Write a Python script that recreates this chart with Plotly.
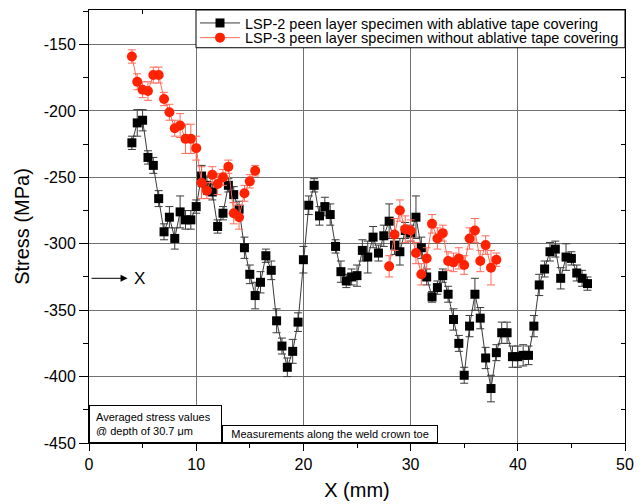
import plotly.graph_objects as go

# LSP-2: peen layer specimen with ablative tape covering
x_lsp2 = [4.0, 4.5, 5.0, 5.5, 6.0, 6.5, 7.0, 7.5, 8.0, 8.5, 9.0, 9.5, 10.0, 10.5, 11.0,
          11.5, 12.0, 12.5, 13.0, 13.5, 14.0, 14.5, 15.0, 15.5, 16.0, 16.5, 17.0, 17.5,
          18.0, 18.5, 19.0, 19.5, 20.0, 20.5, 21.0, 21.5, 22.0, 22.5, 23.0, 23.5, 24.0,
          24.5, 25.0, 25.5, 26.0, 26.5, 27.0, 27.5, 28.0, 28.5, 29.0, 29.5, 30.0, 30.5,
          31.0, 31.5, 32.0, 32.5, 33.0, 33.5, 34.0, 34.5, 35.0, 35.5, 36.0, 36.5, 37.0,
          37.5, 38.0, 38.5, 39.0, 39.5, 40.0, 40.5, 41.0, 41.5, 42.0, 42.5, 43.0, 43.5,
          44.0, 44.5, 45.0, 45.5, 46.0, 46.5]
s_lsp2 = [-224, -209, -207, -235, -241, -266, -291, -280, -296, -276, -282, -282, -272,
          -249, -256, -261, -287, -277, -256, -263, -274, -303, -323, -339, -329, -309,
          -320, -358, -377, -393, -381, -359, -312, -271, -256, -279, -272, -278, -302,
          -321, -328, -325, -324, -305, -310, -295, -307, -294, -283, -301, -306, -290,
          -292, -280, -303, -325, -340, -333, -324, -338, -357, -375, -399, -362, -338,
          -356, -386, -409, -382, -367, -367, -385, -385, -384, -384, -362, -331, -319,
          -306, -304, -326, -310, -311, -322, -326, -330]
e_lsp2 = [5, 10, 8, 5, 6, 6, 6, 8, 8, 12, 7, 7, 5, 8, 7, 6, 5, 5, 5, 6, 6, 8, 7, 10,
          8, 5, 7, 9, 6, 7, 9, 7, 10, 7, 5, 7, 7, 8, 5, 8, 5, 6, 8, 8, 12, 8, 6, 8, 13,
          7, 10, 6, 6, 16, 8, 6, 4, 5, 5, 6, 8, 6, 6, 8, 12, 8, 8, 10, 6, 8, 8, 8, 8, 8,
          7, 8, 8, 6, 7, 6, 8, 10, 5, 6, 6, 5]

# LSP-3: peen layer specimen without ablative tape covering
x_lsp3 = [4.0, 4.5, 5.0, 5.5, 6.0, 6.5, 7.0, 7.5, 8.0, 8.5, 9.0, 9.5, 10.0, 10.5, 11.0,
          11.5, 12.0, 12.5, 13.0, 13.5, 14.0, 14.5, 15.0, 15.5, None,
          28.0, 28.5, 29.0, 29.5, 30.0, 30.5, 31.0, 31.5, 32.0, 32.5, 33.0, 33.5, 34.0,
          34.5, 35.0, 35.5, 36.0, 36.5, 37.0, 37.5, 38.0]
s_lsp3 = [-159, -178, -184, -185, -173, -173, -191, -201, -213, -211, -221, -221, -228,
          -254, -260, -248, -255, -250, -242, -277, -280, -262, -253, -245, None,
          -317, -293, -275, -289, -290, -307, -323, -311, -285, -296, -292, -313, -314,
          -311, -316, -296, -290, -313, -301, -318, -312]
e_lsp3 = [5, 6, 6, 7, 6, 6, 5, 6, 6, 9, 11, 11, 9, 12, 6, 6, 8, 6, 5, 8, 9, 6, 5, 4, None,
          8, 12, 8, 10, 8, 8, 8, 8, 7, 8, 6, 7, 7, 8, 7, 8, 9, 8, 7, 13, 5]

# axis tick labels (plain hyphen minus, as printed)
y_tickvals = [-450, -400, -350, -300, -250, -200, -150]
y_ticktext = ["-450", "-400", "-350", "-300", "-250", "-200", "-150"]
x_tickvals = [0, 10, 20, 30, 40, 50]
x_ticktext = ["0", "10", "20", "30", "40", "50"]

FONT = "Liberation Sans, Arial, sans-serif"
RED = "#ff2200"

# plot-area geometry in pixels (used for paper-coordinate placement)
W, H = 644, 504
ML, MR, MT, MB = 89, 19, 7, 61
PW, PH = W - ML - MR, H - MT - MB

fig = go.Figure()

fig.add_trace(go.Scatter(
    x=x_lsp2, y=s_lsp2, mode="lines+markers",
    name="LSP-2 peen layer specimen with ablative tape covering",
    legend="legend",
    line=dict(color="#3a3a3a", width=1),
    marker=dict(symbol="square", size=9, color="black"),
    error_y=dict(type="data", array=e_lsp2, color="#3a3a3a", thickness=1, width=4),
))
fig.add_trace(go.Scatter(
    x=x_lsp3, y=s_lsp3, mode="lines+markers",
    name="LSP-3 peen layer specimen without ablative tape covering",
    legend="legend2",
    connectgaps=False,
    line=dict(color="#ff6a5a", width=1),
    marker=dict(symbol="circle", size=10, color=RED),
    error_y=dict(type="data", array=e_lsp3, color="#ff6a5a", thickness=1, width=4),
))
# carrier for the mirrored (inward) top/right tick axes
fig.add_trace(go.Scatter(x=[], y=[], xaxis="x2", yaxis="y2", showlegend=False,
                         hoverinfo="skip"))

xr = [0, 50]
yr = [-450, -124]

legend_common = dict(
    xanchor="left", yanchor="top",
    bgcolor="rgba(0,0,0,0)", borderwidth=0,
    font=dict(family=FONT, size=14.5, color="black"),
    itemwidth=40,
)
lx = (195 - ML) / PW

fig.update_layout(
    width=W, height=H,
    margin=dict(l=ML, r=MR, t=MT, b=MB),
    paper_bgcolor="white", plot_bgcolor="white",
    font=dict(family=FONT, color="black"),
    showlegend=True,
    legend=dict(x=lx, y=1 + 3 / PH, **legend_common),
    legend2=dict(x=lx, y=1 - 11.8 / PH, **legend_common),
    xaxis=dict(
        range=xr, tickmode="array", tickvals=x_tickvals, ticktext=x_ticktext,
        showgrid=True, gridcolor="#707070", gridwidth=1, zeroline=False,
        showline=True, linecolor="black", linewidth=1, mirror=True,
        ticks="outside", ticklen=7, tickcolor="black",
        minor=dict(dtick=5, tick0=0, ticks="outside", ticklen=4, tickcolor="black",
                   showgrid=False),
        tickfont=dict(size=16),
        title=dict(text="X (mm)", font=dict(size=20), standoff=10),
    ),
    yaxis=dict(
        range=yr, tickmode="array", tickvals=y_tickvals, ticktext=y_ticktext,
        showgrid=True, gridcolor="#707070", gridwidth=1, zeroline=False,
        showline=True, linecolor="black", linewidth=1, mirror=True,
        ticks="outside", ticklen=9, tickcolor="black",
        minor=dict(dtick=25, tick0=-450, ticks="outside", ticklen=5, tickcolor="black",
                   showgrid=False),
        tickfont=dict(size=16),
        title=dict(text="Stress (MPa)", font=dict(size=20), standoff=8),
    ),
    xaxis2=dict(
        overlaying="x", side="top", range=xr, dtick=10, tick0=0,
        showgrid=False, zeroline=False, showline=False, showticklabels=False,
        ticks="inside", ticklen=6, tickcolor="black",
        minor=dict(dtick=5, ticks="inside", ticklen=4, tickcolor="black"),
    ),
    yaxis2=dict(
        overlaying="y", side="right", range=yr, dtick=50, tick0=-450,
        showgrid=False, zeroline=False, showline=False, showticklabels=False,
        ticks="inside", ticklen=6, tickcolor="black",
        minor=dict(dtick=25, ticks="inside", ticklen=4, tickcolor="black"),
    ),
)

# framed box behind the two legend rows
fig.add_shape(
    type="rect", xref="paper", yref="paper", layer="above",
    x0=(196 - ML) / PW, x1=1, y0=1 - (45 - MT) / PH, y1=1,
    line=dict(color="black", width=1), fillcolor="white",
)

# note boxes along the bottom of the plot
fig.add_annotation(
    x=0, y=-450, xref="x", yref="y", xanchor="left", yanchor="bottom",
    text="Averaged stress values<br>@ depth of 30.7 μm",
    showarrow=False, align="left", valign="middle",
    font=dict(family=FONT, size=11, color="black"),
    bgcolor="white", bordercolor="black", borderwidth=1, borderpad=6,
    width=119, height=24,
)
fig.add_annotation(
    x=12.4, y=-450, xref="x", yref="y", xanchor="left", yanchor="bottom",
    text="Measurements along the weld crown toe",
    showarrow=False, align="center", valign="middle",
    font=dict(family=FONT, size=11, color="black"),
    bgcolor="white", bordercolor="black", borderwidth=1, borderpad=2,
    width=210, height=12,
)

# direction marker
fig.add_annotation(
    x=3.6, y=-326, ax=0.1, ay=-326, xref="x", yref="y", axref="x", ayref="y",
    text="", showarrow=True, arrowhead=2, arrowsize=1.4, arrowwidth=1,
    arrowcolor="black", standoff=0, startstandoff=0,
)
fig.add_annotation(
    x=4.7, y=-326, xref="x", yref="y", text="X", showarrow=False,
    font=dict(family=FONT, size=17, color="black"),
)

fig.write_html("out.html")
